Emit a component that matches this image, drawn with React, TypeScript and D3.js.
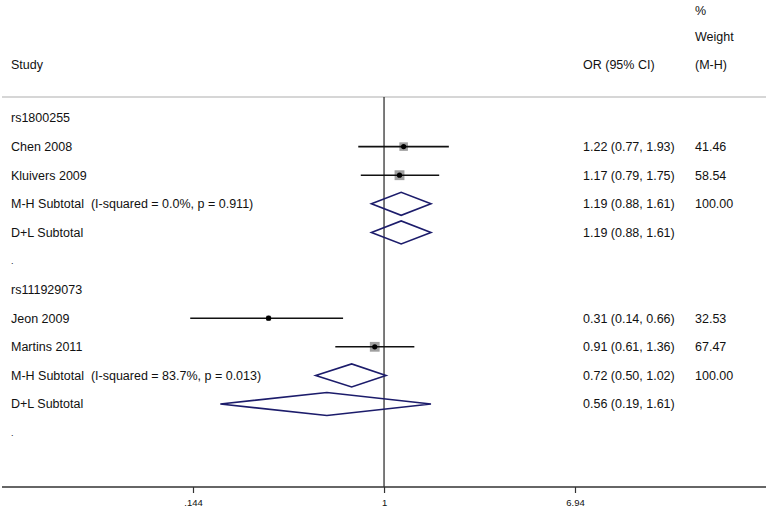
import React, { useEffect, useRef } from 'react';
import * as d3 from 'd3';

// rows of the forest plot, top to bottom
const rowLabels = [
  'rs1800255',
  'Chen 2008',
  'Kluivers 2009',
  'M-H Subtotal  (I-squared = 0.0%, p = 0.911)',
  'D+L Subtotal',
  '.',
  'rs111929073',
  'Jeon 2009',
  'Martins 2011',
  'M-H Subtotal  (I-squared = 83.7%, p = 0.013)',
  'D+L Subtotal',
  '.',
];
const rowKind = ['group', 'study', 'study', 'sum', 'sum', 'blank', 'group', 'study', 'study', 'sum', 'sum', 'blank'];
const orValue = [null, 1.22, 1.17, 1.19, 1.19, null, null, 0.31, 0.91, 0.72, 0.56, null];
const ciLow = [null, 0.77, 0.79, 0.88, 0.88, null, null, 0.14, 0.61, 0.5, 0.19, null];
const ciHigh = [null, 1.93, 1.75, 1.61, 1.61, null, null, 0.66, 1.36, 1.02, 1.61, null];
const weightText = ['', '41.46', '58.54', '100.00', '', '', '', '32.53', '67.47', '100.00', '', ''];
const tickValues = [0.144, 1, 6.94];
const tickLabels = ['.144', '1', '6.94'];

const W = 769;
const H = 509;

const App = () => {
  const ref = useRef<SVGSVGElement>(null);

  useEffect(() => {
    const svg = d3.select(ref.current);
    svg.selectAll('*').remove();

    const font = '"Liberation Sans", Arial, Helvetica, sans-serif';
    const rowStep = 28.6;
    const firstRow = 118;
    const rowY = (i: number) => firstRow + i * rowStep;
    const axisY = 487;
    const sepY = 97;

    const x = d3.scaleLog().domain([0.144, 6.94]).range([193, 575]);

    const g = svg.append('g')
      .attr('font-family', font)
      .attr('font-size', 12.5)
      .attr('fill', '#111');

    // header
    const headerY = firstRow - 2 * rowStep + 4;
    g.append('text').attr('x', 11).attr('y', headerY).attr('dy', '0.35em').text('Study');
    g.append('text').attr('x', 583).attr('y', headerY).attr('dy', '0.35em').text('OR (95% CI)');
    g.append('text').attr('x', 695).attr('y', headerY).attr('dy', '0.35em').text('(M-H)');
    g.append('text').attr('x', 695).attr('y', headerY - rowStep).attr('dy', '0.35em').text('Weight');
    g.append('text').attr('x', 695).attr('y', headerY - 2 * rowStep + 3).attr('dy', '0.35em').text('%');

    // separator under header
    svg.append('line')
      .attr('x1', 2).attr('x2', 766).attr('y1', sepY).attr('y2', sepY)
      .attr('stroke', '#c8c8c8').attr('stroke-width', 1.5);

    // null line at OR = 1
    svg.append('line')
      .attr('x1', x(1)).attr('x2', x(1)).attr('y1', sepY).attr('y2', axisY)
      .attr('stroke', '#222').attr('stroke-width', 1.2);

    // axis
    const axis = svg.append('g')
      .attr('transform', `translate(0,${axisY})`)
      .call(d3.axisBottom(x).tickValues(tickValues).tickSize(6).tickFormat((_, i) => tickLabels[i]));
    axis.select('.domain').remove();
    axis.selectAll('line').attr('stroke', '#333').attr('stroke-width', 1.2);
    axis.selectAll('text').attr('font-family', font).attr('font-size', 9.5).attr('fill', '#111').attr('dy', '1em');
    svg.append('line')
      .attr('x1', 2).attr('x2', 766).attr('y1', axisY).attr('y2', axisY)
      .attr('stroke', '#333').attr('stroke-width', 1.5);

    // labels and right-hand columns
    rowLabels.forEach((lab, i) => {
      g.append('text').attr('x', 11).attr('y', rowY(i)).attr('dy', '0.35em')
        .attr('xml:space', 'preserve')
        .style('white-space', 'pre')
        .attr('font-size', lab === '.' ? 9 : 12.5).text(lab);
      const v = orValue[i];
      if (v != null) {
        g.append('text').attr('x', 583).attr('y', rowY(i)).attr('dy', '0.35em')
          .text(`${v.toFixed(2)} (${ciLow[i]!.toFixed(2)}, ${ciHigh[i]!.toFixed(2)})`);
      }
      if (weightText[i]) {
        g.append('text').attr('x', 695).attr('y', rowY(i)).attr('dy', '0.35em').text(weightText[i]);
      }
    });

    // study estimates: CI line, weighted box (inverse variance), point
    rowKind.forEach((k, i) => {
      if (k !== 'study') return;
      const y = rowY(i);
      const lo = ciLow[i]!, hi = ciHigh[i]!, v = orValue[i]!;
      const se = (Math.log(hi) - Math.log(lo)) / 3.92;
      const side = 2 * Math.sqrt(1 / (se * se));
      svg.append('rect')
        .attr('x', x(v) - side / 2).attr('y', y - side / 2)
        .attr('width', side).attr('height', side)
        .attr('fill', '#a0a0a0');
      svg.append('line')
        .attr('x1', x(lo)).attr('x2', x(hi)).attr('y1', y).attr('y2', y)
        .attr('stroke', '#111').attr('stroke-width', 1.6);
      svg.append('circle').attr('cx', x(v)).attr('cy', y).attr('r', 2.6).attr('fill', '#000');
    });

    // pooled diamonds
    rowKind.forEach((k, i) => {
      if (k !== 'sum') return;
      const y = rowY(i);
      const h = 11.5;
      const pts: [number, number][] = [
        [x(ciLow[i]!), y],
        [x(orValue[i]!), y - h],
        [x(ciHigh[i]!), y],
        [x(orValue[i]!), y + h],
      ];
      svg.append('path')
        .attr('d', d3.line()(pts) + 'Z')
        .attr('fill', 'none')
        .attr('stroke', '#1c1c6b')
        .attr('stroke-width', 1.6)
        .attr('stroke-linejoin', 'miter');
    });
  }, []);

  return <svg ref={ref} width={W} height={H} style={{ position: 'absolute', left: 0, top: 0, background: '#fff' }} />;
};

export default App;
